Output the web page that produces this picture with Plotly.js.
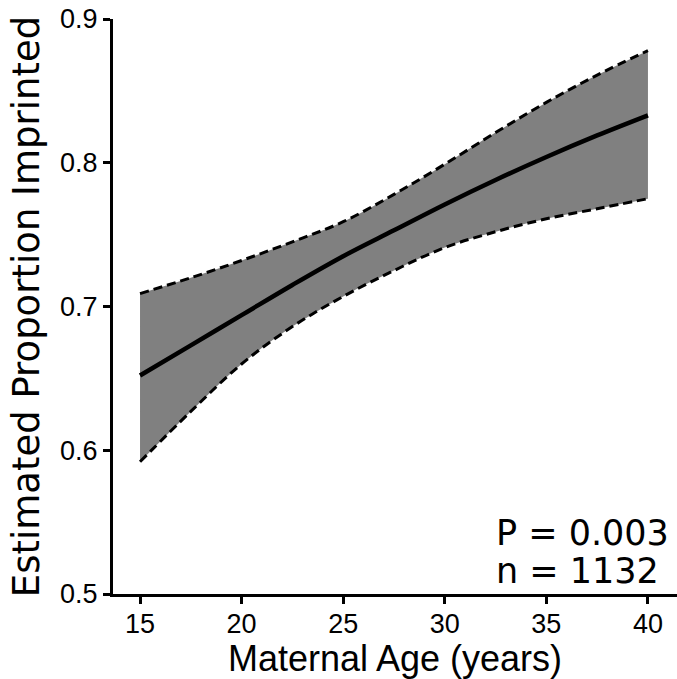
<!DOCTYPE html>
<html>
<head>
<meta charset="utf-8">
<script src="https://cdn.plot.ly/plotly-3.0.1.min.js"></script>
<style>html,body{margin:0;padding:0;background:#fff;}#chart{width:677px;height:679px;}</style>
</head>
<body>
<div id="chart"></div>
<script>
var age = [15, 17.5, 20, 22.5, 25, 27.5, 30, 32.5, 35, 37.5, 40];
var estimate = [0.652, 0.673, 0.694, 0.715, 0.735, 0.753, 0.771, 0.788, 0.804, 0.819, 0.833];
var upperCI = [0.709, 0.720, 0.732, 0.745, 0.759, 0.778, 0.799, 0.821, 0.842, 0.861, 0.878];
var lowerCI = [0.592, 0.627, 0.660, 0.686, 0.707, 0.725, 0.741, 0.752, 0.761, 0.768, 0.775];
var xTicks = [15, 20, 25, 30, 35, 40];
var yTicks = [0.5, 0.6, 0.7, 0.8, 0.9];
var yTickText = ['0.5', '0.6', '0.7', '0.8', '0.9'];

var traces = [
  {x: age, y: lowerCI, mode: 'lines', line: {color: 'black', width: 3, dash: '9px,5px', shape: 'spline', smoothing: 1}, hoverinfo: 'skip', showlegend: false},
  {x: age, y: upperCI, mode: 'lines', fill: 'tonexty', fillcolor: '#808080', line: {color: 'black', width: 3, dash: '9px,5px', shape: 'spline', smoothing: 1}, hoverinfo: 'skip', showlegend: false},
  {x: age, y: estimate, mode: 'lines', line: {color: 'black', width: 4.5, shape: 'spline'}, showlegend: false}
];

var sans = "Liberation Sans";
var verd = "DejaVu Sans";

var layout = {
  width: 677, height: 679,
  margin: {l: 113, r: 0, t: 19, b: 85},
  paper_bgcolor: 'white', plot_bgcolor: 'white',
  font: {family: sans, size: 27, color: 'black'},
  showlegend: false,
  xaxis: {
    range: [13.67, 41.43], tickmode: 'array', tickvals: xTicks, ticktext: xTicks.map(String),
    showgrid: false, zeroline: false, showline: true, linecolor: 'black', linewidth: 3,
    ticks: 'outside', ticklen: 7, tickwidth: 3, tickcolor: 'black', ticklabelstandoff: -3,
    tickfont: {family: sans, size: 27, color: 'black'},
    title: {text: 'Maternal Age (years)', font: {family: sans, size: 36, color: 'black'}, standoff: 6}
  },
  yaxis: {
    range: [0.5, 0.9], tickmode: 'array', tickvals: yTicks, ticktext: yTickText,
    showgrid: false, zeroline: false, showline: true, linecolor: 'black', linewidth: 3,
    ticks: 'outside', ticklen: 7, tickwidth: 3, tickcolor: 'black',
    tickfont: {family: sans, size: 27, color: 'black'},
    title: {text: 'Estimated Proportion Imprinted', font: {family: verd, size: 37, color: 'black'}, standoff: 10}
  },
  annotations: [
    {xref: 'paper', yref: 'paper', x: 0.676, y: 0.106, xanchor: 'left', yanchor: 'middle', align: 'left', showarrow: false,
     text: 'P = 0.003', font: {family: verd, size: 35, color: 'black'}},
    {xref: 'paper', yref: 'paper', x: 0.676, y: 0.040, xanchor: 'left', yanchor: 'middle', align: 'left', showarrow: false,
     text: 'n = 1132', font: {family: verd, size: 35, color: 'black'}}
  ]
};

Plotly.newPlot('chart', traces, layout, {displayModeBar: false, staticPlot: true});
</script>
</body>
</html>
